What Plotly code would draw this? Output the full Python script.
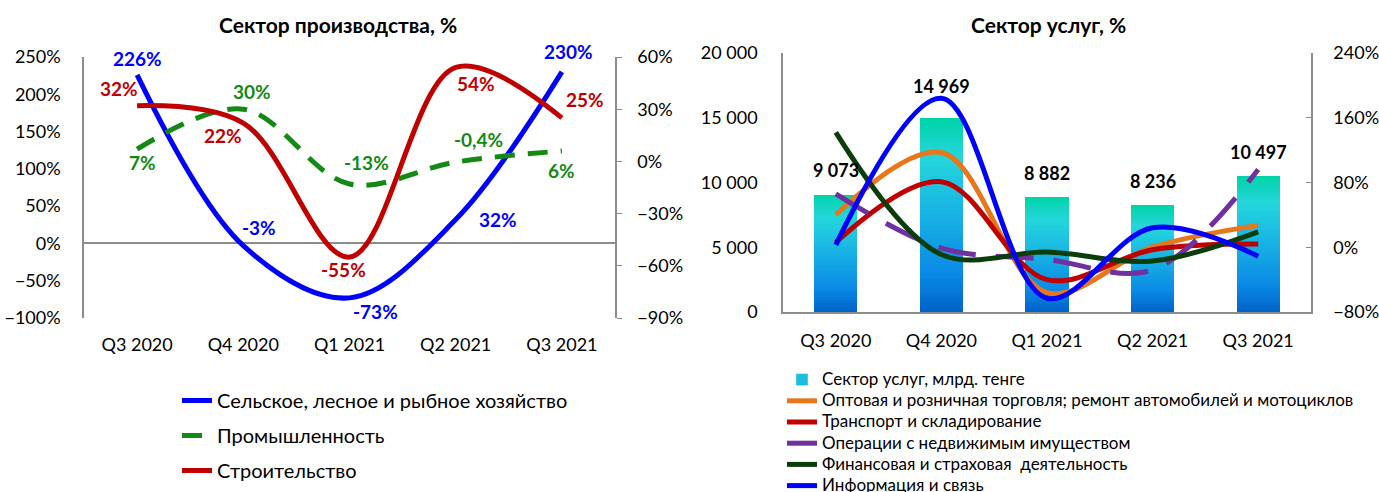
import plotly.graph_objects as go

# ---------------- data ----------------
quarters = ["Q3 2020", "Q4 2020", "Q1 2021", "Q2 2021", "Q3 2021"]

# Left chart: production sector, %
agri = [226, -3, -73, 32, 230]          # primary axis
industry = [7, 30, -13, -0.4, 6]        # secondary axis
construction = [32, 22, -55, 54, 25]    # secondary axis

# Right chart: services sector
services_bln = [9073, 14969, 8882, 8236, 10497]   # bars, bln tenge
trade = [40, 117, -56, 0, 27]
transport = [6, 81, -40, -3, 4]
real_estate = [66, -1, -15, -28, 96]
finance = [142, -9, -6, -17, 19]
ict = [3, 184, -63, 24, -11]

FONT = "Lato, Carlito, Calibri, 'Liberation Sans', sans-serif"
GRAY = "#8C8C8C"


def big(s, px):
    return '<span style="font-size:%dpx">%s</span>' % (px, s)


fig = go.Figure()

# ---------- left chart ----------
fig.add_trace(go.Scatter(x=quarters, y=agri, name="Сельское, лесное и рыбное хозяйство",
                         mode="lines", line=dict(color="#0000FF", width=5, shape="spline", smoothing=1),
                         xaxis="x", yaxis="y", legend="legend", legendgroup="a"))
fig.add_trace(go.Scatter(x=quarters, y=industry, name="Промышленность",
                         mode="lines", line=dict(color="#138A13", width=5, shape="spline", smoothing=1,
                                                 dash="20px,13px"),
                         xaxis="x", yaxis="y2", legend="legend", legendgroup="b"))
fig.add_trace(go.Scatter(x=quarters, y=construction, name="Строительство",
                         mode="lines", line=dict(color="#C00000", width=5, shape="spline", smoothing=1),
                         xaxis="x", yaxis="y2", legend="legend", legendgroup="c"))

# ---------- right chart: gradient bars ----------
N = 40
stops = [(0.0, (0x00, 0xD4, 0xA6)), (0.2, (0x24, 0xD6, 0xDC)), (0.5, (0x18, 0xB2, 0xE4)),
         (0.8, (0x0A, 0x8A, 0xE6)), (1.0, (0x00, 0x62, 0xC8))]


def grad(f):
    for (f0, c0), (f1, c1) in zip(stops[:-1], stops[1:]):
        if f0 <= f <= f1:
            t = (f - f0) / (f1 - f0)
            return "rgb(%d,%d,%d)" % tuple(round(a + (b - a) * t) for a, b in zip(c0, c1))
    return "rgb(0,98,200)"


for i in range(N):
    frac_top = 1 - (i + 0.5) / N
    fig.add_trace(go.Bar(x=quarters, y=[v / N for v in services_bln],
                         marker=dict(color=grad(frac_top), line=dict(width=0)),
                         width=0.41, name="Сектор услуг, млрд. тенге",
                         showlegend=False, hoverinfo="skip",
                         xaxis="x3", yaxis="y3", legend="legend2"))
# legend entry for the bars
fig.add_trace(go.Bar(x=[None], y=[None], name=big("Сектор услуг, млрд. тенге", 17),
                     marker=dict(color="#1ABFE0"), xaxis="x3", yaxis="y3", legend="legend2"))

right_lines = [
    (trade, "Оптовая и розничная торговля; ремонт автомобилей и мотоциклов", "#E8761A", None),
    (transport, "Транспорт и складирование", "#C00000", None),
    (real_estate, "Операции с недвижимым имуществом", "#7030A0", "38px,20px"),
    (finance, "Финансовая и страховая  деятельность", "#0B3D0B", None),
    (ict, "Информация и связь", "#0000FF", None),
]
for vals, nm, col, dash in right_lines:
    ln = dict(color=col, width=5, shape="spline", smoothing=1)
    if dash:
        ln["dash"] = dash
    fig.add_trace(go.Scatter(x=quarters, y=vals, name=big(nm, 17), mode="lines", line=ln,
                             xaxis="x3", yaxis="y4", legend="legend2"))

# ---------- annotations ----------
ann = []


def pct(v):
    s = ("%g" % v).replace(".", ",")
    return s + "%"


left_labels = [
    (agri, "y", "#0000FF", [(0, 16), (16, 18), (26, -14), (42, 0), (7, 20)]),
    (construction, "y2", "#C00000", [(-18, 17), (-20, -12), (-6, -12), (20, -16), (23, 18)]),
    (industry, "y2", "#138A13", [(5, -13), (9, 18), (17, 22), (23, 23), (0, -20)]),
]
for vals, yref, col, offs in left_labels:
    for q, v, (dx, dy) in zip(quarters, vals, offs):
        ann.append(dict(x=q, y=v, xref="x", yref=yref, text="<b>%s</b>" % pct(v), showarrow=False,
                        xshift=dx, yshift=dy, font=dict(family=FONT, size=19, color=col)))

bar_shift = [24, 32, 24, 24, 24]
for q, v, dy in zip(quarters, services_bln, bar_shift):
    ann.append(dict(x=q, y=v, xref="x3", yref="y3", text="<b>%s</b>" % f"{v:,}".replace(",", " "),
                    showarrow=False, yshift=dy, font=dict(family=FONT, size=18, color="#000")))

# titles
ann.append(dict(x=338 / 1379, y=1 - 24 / 492, xref="paper", yref="paper", showarrow=False,
                xanchor="center", yanchor="middle",
                text="<b>Сектор производства, %</b>", font=dict(family=FONT, size=21, color="#000")))
ann.append(dict(x=1048 / 1379, y=1 - 24 / 492, xref="paper", yref="paper", showarrow=False,
                xanchor="center", yanchor="middle",
                text="<b>Сектор услуг, %</b>", font=dict(family=FONT, size=21, color="#000")))

tick_font = dict(family=FONT, size=18, color="#000")

L0, L1 = 84 / 1379, 615 / 1379
R0, R1 = 783 / 1379, 1311 / 1379
LY = [1 - 318 / 492, 1 - 57 / 492]
RY = [1 - 312 / 492, 1 - 53 / 492]

fig.update_layout(
    width=1379, height=492,
    margin=dict(l=0, r=0, t=0, b=0, autoexpand=False),
    paper_bgcolor="white", plot_bgcolor="white",
    separators=", ",
    barmode="stack",
    font=dict(family=FONT, size=16, color="#000"),
    annotations=ann,
    xaxis=dict(domain=[L0, L1], anchor="y", type="category", range=[-0.5, 4.5],
               showline=False, showgrid=False,
               zeroline=False, ticks="", tickfont=tick_font, ticklabelstandoff=14, automargin=False),
    yaxis=dict(domain=LY, anchor="x", range=[-100, 250], dtick=50, ticksuffix="%",
               showgrid=False, showline=True, linecolor=GRAY, linewidth=1.5,
               zeroline=True, zerolinecolor=GRAY, zerolinewidth=1.5, automargin=False,
               ticks="", tickfont=tick_font, ticklabelstandoff=18),
    yaxis2=dict(overlaying="y", anchor="x", side="right", range=[-90, 60], dtick=30, ticksuffix="%",
                showgrid=False, showline=True, linecolor=GRAY, linewidth=1.5, zeroline=False,
                automargin=False,
                ticks="outside", ticklen=5, tickcolor=GRAY, tickfont=tick_font, ticklabelstandoff=12),
    xaxis3=dict(domain=[R0, R1], anchor="y3", type="category", range=[-0.5, 4.5],
                showline=True, linecolor=GRAY,
                linewidth=2, showgrid=False, zeroline=False, ticks="", tickfont=tick_font,
                ticklabelstandoff=11, automargin=False),
    yaxis3=dict(domain=RY, anchor="x3", range=[0, 20000], dtick=5000, tickformat=",d",
                showgrid=False, showline=True, linecolor=GRAY, linewidth=1.5, zeroline=False,
                automargin=False, ticks="", tickfont=tick_font, ticklabelstandoff=20),
    yaxis4=dict(overlaying="y3", anchor="x3", side="right", range=[-80, 240], dtick=80, ticksuffix="%",
                showgrid=False, showline=True, linecolor=GRAY, linewidth=1.5, zeroline=False,
                automargin=False,
                ticks="inside", ticklen=5, tickcolor=GRAY, tickfont=tick_font, ticklabelstandoff=17),
    legend=dict(x=177 / 1379, y=1 - 381 / 492, xanchor="left", yanchor="top",
                font=dict(family=FONT, size=20, color="#000"), tracegroupgap=6,
                bgcolor="rgba(0,0,0,0)"),
    legend2=dict(x=782 / 1379, y=1 - 364 / 492, xanchor="left", yanchor="top",
                 font=dict(family=FONT, size=14, color="#000"), tracegroupgap=0,
                 bgcolor="rgba(0,0,0,0)", traceorder="normal"),
    showlegend=True,
)

fig.write_html("out.html", config={"displayModeBar": False},
               post_script="document.body.style.margin='0';")
